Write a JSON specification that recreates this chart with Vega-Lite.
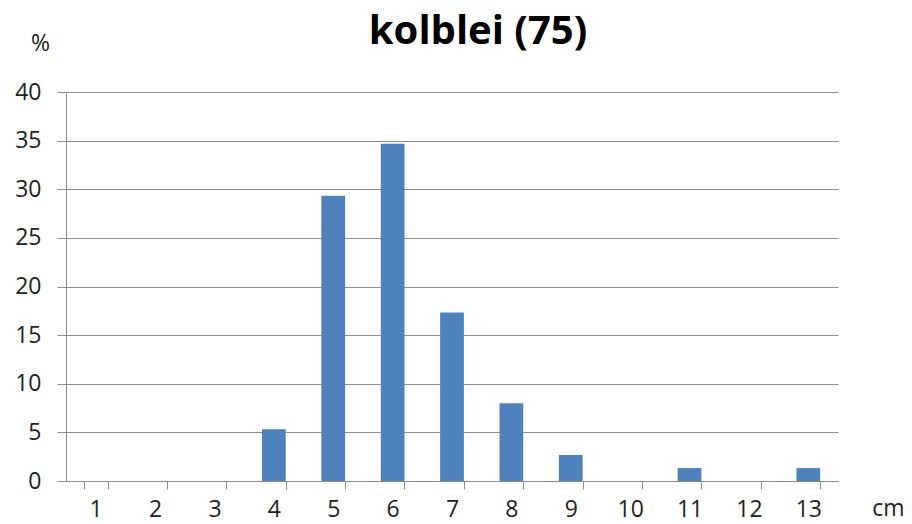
{
  "$schema": "https://vega.github.io/schema/vega-lite/v6.json",
  "autosize": "none",
  "width": 772,
  "height": 389,
  "padding": {"left": 66, "top": 92, "right": 74, "bottom": 43},
  "background": "white",
  "title": {
    "text": "kolblei (75)",
    "font": "Open Sans",
    "fontSize": 40,
    "fontWeight": "bold",
    "color": "#000000",
    "anchor": "middle",
    "baseline": "alphabetic",
    "dx": 26,
    "offset": -52
  },
  "data": {
    "values": [
      {"cm": "1", "pct": 0},
      {"cm": "2", "pct": 0},
      {"cm": "3", "pct": 0},
      {"cm": "4", "pct": 5.33},
      {"cm": "5", "pct": 29.33},
      {"cm": "6", "pct": 34.67},
      {"cm": "7", "pct": 17.33},
      {"cm": "8", "pct": 8.0},
      {"cm": "9", "pct": 2.67},
      {"cm": "10", "pct": 0},
      {"cm": "11", "pct": 1.33},
      {"cm": "12", "pct": 0},
      {"cm": "13", "pct": 1.33}
    ]
  },
  "mark": {"type": "bar", "color": "#4F81BD"},
  "encoding": {
    "x": {
      "field": "cm",
      "type": "ordinal",
      "sort": null,
      "scale": {"paddingInner": 0.6, "paddingOuter": 0.3},
      "axis": {
        "title": "cm",
        "titleAngle": 0,
        "titleX": 822,
        "titleY": 34,
        "titleBaseline": "alphabetic",
        "titleAlign": "center",
        "titleFont": "Open Sans",
        "titleFontSize": 23,
        "titleFontWeight": "normal",
        "titleColor": "#222222",
        "labelAngle": 0,
        "labelFont": "Open Sans",
        "labelFontSize": 23,
        "labelColor": "#222222",
        "labelPadding": 9,
        "tickBand": "extent",
        "tickSize": 8,
        "tickColor": "#8c8c8c",
        "domainColor": "#8c8c8c",
        "grid": false
      }
    },
    "y": {
      "field": "pct",
      "type": "quantitative",
      "scale": {"domain": [0, 40], "nice": false},
      "axis": {
        "title": "%",
        "titleAngle": 0,
        "titleX": -26,
        "titleY": -49,
        "titleBaseline": "middle",
        "titleAlign": "center",
        "titleFont": "Open Sans",
        "titleFontSize": 23,
        "titleFontWeight": "normal",
        "titleColor": "#222222",
        "values": [0, 5, 10, 15, 20, 25, 30, 35, 40],
        "labelFont": "Open Sans",
        "labelFontSize": 23,
        "labelColor": "#222222",
        "labelPadding": 16,
        "tickSize": 9,
        "tickColor": "#8c8c8c",
        "domainColor": "#8c8c8c",
        "gridColor": "#8c8c8c",
        "gridWidth": 1
      }
    }
  },
  "config": {"view": {"stroke": null}}
}
